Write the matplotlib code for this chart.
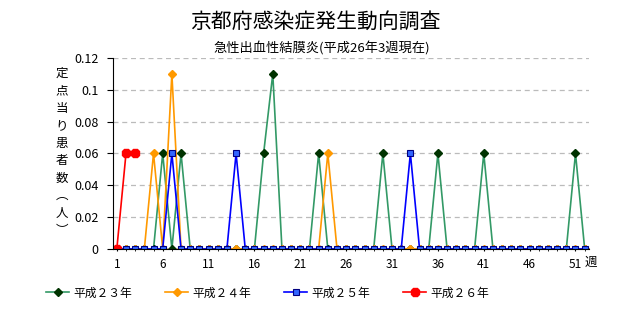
import matplotlib
matplotlib.use("Agg")
import matplotlib.pyplot as plt

plt.rcParams['font.family'] = ['Noto Sans CJK JP', 'DejaVu Sans']

weeks = list(range(1, 53))
h23 = [0, 0, 0, 0, 0, 0.06, 0, 0.06, 0, 0,
       0, 0, 0, 0, 0, 0, 0.06, 0.11, 0, 0,
       0, 0, 0.06, 0, 0, 0, 0, 0, 0, 0.06,
       0, 0, 0, 0, 0, 0.06, 0, 0, 0, 0,
       0.06, 0, 0, 0, 0, 0, 0, 0, 0, 0,
       0.06, 0]
h24 = [0, 0, 0, 0, 0.06, 0, 0.11, 0, 0, 0,
       0, 0, 0, 0, 0, 0, 0, 0, 0, 0,
       0, 0, 0, 0.06, 0, 0, 0, 0, 0, 0,
       0, 0, 0, 0, 0, 0, 0, 0, 0, 0,
       0, 0, 0, 0, 0, 0, 0, 0, 0, 0,
       0, 0]
h25 = [0, 0, 0, 0, 0, 0, 0.06, 0, 0, 0,
       0, 0, 0, 0.06, 0, 0, 0, 0, 0, 0,
       0, 0, 0, 0, 0, 0, 0, 0, 0, 0,
       0, 0, 0.06, 0, 0, 0, 0, 0, 0, 0,
       0, 0, 0, 0, 0, 0, 0, 0, 0, 0,
       0, 0]
h26_weeks = [1, 2, 3]
h26 = [0, 0.06, 0.06]

series_names = ["平成２３年", "平成２４年", "平成２５年", "平成２６年"]
xtick_weeks = [1, 6, 11, 16, 21, 26, 31, 36, 41, 46, 51]
yticks = [0, 0.02, 0.04, 0.06, 0.08, 0.1, 0.12]

fig = plt.figure(figsize=(6.44, 3.10), dpi=100)
ax = fig.add_axes([0.175, 0.197, 0.740, 0.616])

ax.plot(weeks, h23, color="#339966", lw=1.2, marker="D", ms=4,
        mfc="#003300", mec="#003300", label=series_names[0])
ax.plot(weeks, h24, color="#FF9900", lw=1.2, marker="D", ms=4,
        mfc="#FF9900", mec="#FF9900", label=series_names[1])
ax.plot(weeks, h25, color="#0000FF", lw=1.2, marker="s", ms=5,
        mfc="#3366FF", mec="#000080", mew=0.8, label=series_names[2])
ax.plot(h26_weeks, h26, color="#FF0000", lw=1.2, marker="8", ms=6.5,
        mfc="#FF0000", mec="#FF0000", label=series_names[3])

ax.set_xlim(0.55, 52.5)
ax.set_ylim(0, 0.12)
ax.set_yticks(yticks)
ax.set_yticklabels(["0", "0.02", "0.04", "0.06", "0.08", "0.1", "0.12"])
ax.set_xticks(xtick_weeks)
ax.set_xticks(weeks, minor=True)
ax.tick_params(axis="y", length=4, labelsize=9, pad=6)
ax.tick_params(axis="x", which="both", length=3, direction="inout", labelsize=8.5, pad=5)
ax.grid(axis="y", color="#BBBBBB", ls=(0, (4, 3)), lw=0.9)
for s in ["top", "right"]:
    ax.spines[s].set_visible(False)
ax.set_axisbelow(True)

fig.text(0.49, 0.93, "京都府感染症発生動向調査", ha="center", va="center", fontsize=15)
fig.text(0.5, 0.845, "急性出血性結膜炎(平成26年3週現在)", ha="center", va="center", fontsize=9.5)
fig.text(0.096, 0.51, "\n".join("定点当り患者数︵人︶"), ha="center", va="center",
         fontsize=9, linespacing=1.45)
fig.text(0.918, 0.155, "週", ha="center", va="center", fontsize=9)

fig.legend(loc="center", bbox_to_anchor=(0.415, 0.055), ncol=4, frameon=False,
           fontsize=8.5, handlelength=2.0, handletextpad=0.3, columnspacing=2.8)

fig.savefig("out.png", dpi=100)
